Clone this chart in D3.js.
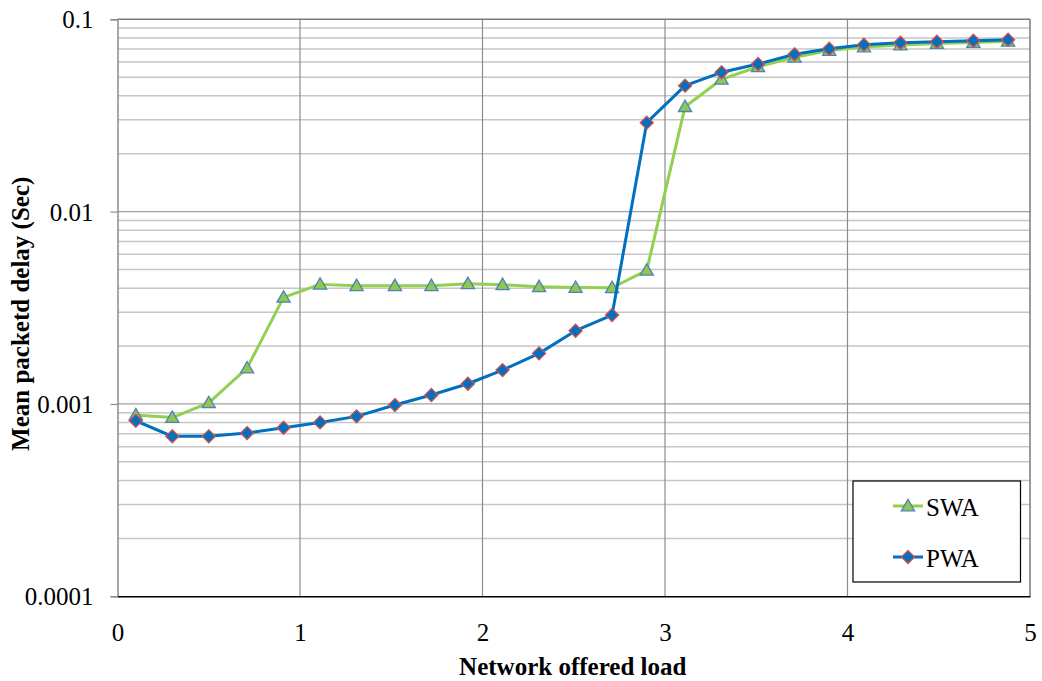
<!DOCTYPE html>
<html>
<head>
<meta charset="utf-8">
<script src="https://cdn.jsdelivr.net/npm/d3@7"></script>
<style>
  html, body { margin: 0; padding: 0; background: #fff; }
  svg { display: block; font-family: "Liberation Serif", "Times New Roman", serif; }
  svg text { font-family: "Liberation Serif", "Times New Roman", serif; }
</style>
</head>
<body>
<svg id="chart" width="1042" height="681"></svg>
<script>
// ---- data ----
const loads = [0.10, 0.30, 0.50, 0.71, 0.91, 1.11, 1.31, 1.52, 1.72, 1.92, 2.11, 2.31, 2.51,
               2.71, 2.90, 3.11, 3.31, 3.51, 3.71, 3.90, 4.09, 4.29, 4.49, 4.69, 4.88];
const swa = [0.000876, 0.000850, 0.001014, 0.001537, 0.003583, 0.004186, 0.004117, 0.004117,
             0.004117, 0.004217, 0.004167, 0.004068, 0.004029, 0.004019, 0.004951, 0.03512,
             0.04875, 0.05667, 0.06343, 0.06881, 0.07178, 0.07352, 0.07485, 0.07575, 0.07684];
const pwa = [0.000818, 0.000679, 0.000679, 0.000706, 0.000752, 0.000802, 0.000862, 0.000987,
             0.001113, 0.001274, 0.001500, 0.001833, 0.002403, 0.002900, 0.02900, 0.04516,
             0.05302, 0.05853, 0.06577, 0.07035, 0.07378, 0.07556, 0.07648, 0.07742, 0.07836];
const xTicks = [0, 1, 2, 3, 4, 5];
const yTicks = [0.0001, 0.001, 0.01, 0.1];
const yTickLabels = ["0.0001", "0.001", "0.01", "0.1"];
const seriesNames = ["SWA", "PWA"];

// ---- layout ----
const L = 117.5, R = 1030, T = 19.3, B = 596.3;
const FONT = "'Liberation Serif', 'Times New Roman', serif";
const svg = d3.select("#chart");
const x = d3.scaleLinear().domain([0, 5]).range([L, R]);
const y = d3.scaleLog().domain([0.0001, 0.1]).range([B, T]);

// minor horizontal gridlines
const minor = [];
for (let d = 0.0001; d < 0.1 - 1e-12; d *= 10) {
  for (let k = 2; k <= 9; k++) minor.push(d * k);
}
svg.append("g").selectAll("line").data(minor).join("line")
  .attr("x1", L).attr("x2", R)
  .attr("y1", d => y(d)).attr("y2", d => y(d))
  .attr("stroke", "#c6c6c6").attr("stroke-width", 1.5);

// major horizontal gridlines
svg.append("g").selectAll("line").data([0.001, 0.01]).join("line")
  .attr("x1", L).attr("x2", R)
  .attr("y1", d => y(d)).attr("y2", d => y(d))
  .attr("stroke", "#a0a0a0").attr("stroke-width", 1.2);

// major vertical gridlines
svg.append("g").selectAll("line").data([1, 2, 3, 4]).join("line")
  .attr("x1", d => x(d)).attr("x2", d => x(d))
  .attr("y1", T).attr("y2", B)
  .attr("stroke", "#8c8c8c").attr("stroke-width", 1.2);

// plot border: top & right
svg.append("line").attr("x1", L).attr("x2", R).attr("y1", T).attr("y2", T)
  .attr("stroke", "#7a7a7a").attr("stroke-width", 1.5);
svg.append("line").attr("x1", R).attr("x2", R).attr("y1", T).attr("y2", B)
  .attr("stroke", "#7a7a7a").attr("stroke-width", 1.5);

// y axis
const yAxis = d3.axisLeft(y).tickValues(yTicks)
  .tickFormat((d, i) => yTickLabels[i]).tickSize(7).tickPadding(17);
const gy = svg.append("g").attr("transform", `translate(${L},0)`).call(yAxis)
  .attr("font-family", FONT).attr("font-size", 25);
gy.select(".domain").attr("stroke", "#8c8c8c").attr("stroke-width", 1.5);
gy.selectAll(".tick line").attr("stroke", "#8c8c8c").attr("stroke-width", 1.2);
gy.selectAll("text").attr("fill", "#000").attr("dy", "0.34em");

// x axis
const xAxis = d3.axisBottom(x).tickValues(xTicks).tickFormat(d3.format("d"))
  .tickSize(0).tickPadding(27);
const gx = svg.append("g").attr("transform", `translate(0,${B})`).call(xAxis)
  .attr("font-family", FONT).attr("font-size", 25);
gx.select(".domain").attr("stroke", "#000").attr("stroke-width", 1.5);
gx.selectAll("text").attr("fill", "#000");

// axis titles
svg.append("text").attr("x", (L + R) / 2 - 1).attr("y", 675)
  .attr("text-anchor", "middle").attr("font-weight", "bold").attr("font-size", 25)
  .text("Network offered load");
svg.append("text").attr("transform", `translate(29,${(T + B) / 2 + 6}) rotate(-90)`)
  .attr("text-anchor", "middle").attr("font-weight", "bold").attr("font-size", 25)
  .text("Mean packetd delay (Sec)");

// series
const line = d3.line().x(d => x(d[0])).y(d => y(d[1]));
const swaData = loads.map((l, i) => [l, swa[i]]);
const pwaData = loads.map((l, i) => [l, pwa[i]]);

const greenLine = "#92d050", blueLine = "#0070c0";
const triPath = d3.symbol().type(d3.symbolTriangle).size(75)();
const diaPath = "M0,-6.5L6.5,0L0,6.5L-6.5,0Z";

function drawTri(g, px, py) {
  g.append("path").attr("d", triPath).attr("transform", `translate(${px},${py + 1})`)
    .attr("fill", "#8fc74f").attr("stroke", "#4f81bd").attr("stroke-width", 1.3);
}
function drawDia(g, px, py) {
  g.append("path").attr("d", diaPath).attr("transform", `translate(${px},${py})`)
    .attr("fill", "#0070c0").attr("stroke", "#d0504d").attr("stroke-width", 1.3);
}

svg.append("path").datum(swaData).attr("d", line)
  .attr("fill", "none").attr("stroke", greenLine).attr("stroke-width", 3).attr("stroke-linejoin", "round");
const gs = svg.append("g");
swaData.forEach(d => drawTri(gs, x(d[0]), y(d[1])));

svg.append("path").datum(pwaData).attr("d", line)
  .attr("fill", "none").attr("stroke", blueLine).attr("stroke-width", 3).attr("stroke-linejoin", "round");
const gp = svg.append("g");
pwaData.forEach(d => drawDia(gp, x(d[0]), y(d[1])));

// legend
const lg = svg.append("g");
lg.append("rect").attr("x", 853).attr("y", 481).attr("width", 167.5).attr("height", 101)
  .attr("fill", "#fff").attr("stroke", "#000").attr("stroke-width", 1.2);
const legendRows = [
  { name: seriesNames[0], color: greenLine, y: 506, marker: drawTri },
  { name: seriesNames[1], color: blueLine, y: 557, marker: drawDia }
];
legendRows.forEach(r => {
  lg.append("line").attr("x1", 893).attr("x2", 923).attr("y1", r.y).attr("y2", r.y)
    .attr("stroke", r.color).attr("stroke-width", 3);
  r.marker(lg, 908, r.y);
  lg.append("text").attr("x", 926).attr("y", r.y + 9.5).attr("font-size", 25)
    .attr("font-family", FONT).attr("fill", "#000").text(r.name);
});
</script>
</body>
</html>
